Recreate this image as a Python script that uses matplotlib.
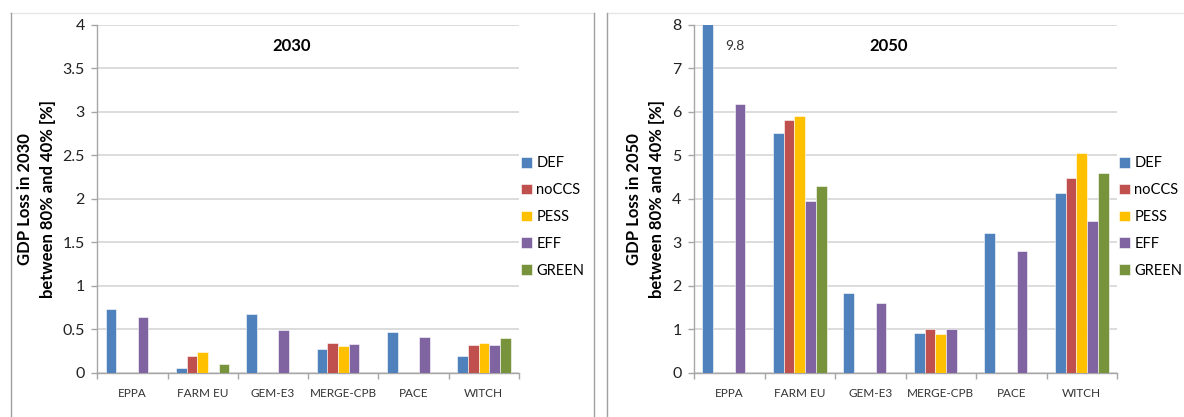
import numpy as np
import matplotlib.pyplot as plt
from matplotlib.lines import Line2D

plt.rcParams["font.family"] = ["Lato", "DejaVu Sans"]

models = ["EPPA", "FARM EU", "GEM-E3", "MERGE-CPB", "PACE", "WITCH"]
scenarios = ["DEF", "noCCS", "PESS", "EFF", "GREEN"]
colors = ["#4F81BD", "#C0504D", "#FFC000", "#8064A2", "#77933C"]

nan = np.nan
# GDP loss 2030 [%], one list per scenario (values by model)
def_2030 = [0.73, 0.055, 0.68, 0.275, 0.47, 0.19]
noccs_2030 = [nan, 0.20, nan, 0.34, nan, 0.32]
pess_2030 = [nan, 0.245, nan, 0.31, nan, 0.34]
eff_2030 = [0.645, -0.005, 0.49, 0.33, 0.41, 0.32]
green_2030 = [nan, 0.10, nan, nan, nan, 0.40]

# GDP loss 2050 [%]
def_2050 = [9.8, 5.51, 1.84, 0.93, 3.22, 4.13]
noccs_2050 = [nan, 5.80, nan, 1.00, nan, 4.47]
pess_2050 = [nan, 5.90, nan, 0.90, nan, 5.06]
eff_2050 = [6.17, 3.95, 1.60, 1.00, 2.80, 3.50]
green_2050 = [nan, 4.30, nan, nan, nan, 4.59]

data_2030 = [def_2030, noccs_2030, pess_2030, eff_2030, green_2030]
data_2050 = [def_2050, noccs_2050, pess_2050, eff_2050, green_2050]

W, H = 1184, 417
fig = plt.figure(figsize=(W / 100, H / 100), dpi=100)


def px(x0, y0, x1, y1):
    return [x0 / W, 1 - y1 / H, (x1 - x0) / W, (y1 - y0) / H]


def panel(rect, data, ymax, ystep, year, legend_x):
    ax = fig.add_axes(rect)
    x = np.arange(len(models))
    w = 0.152
    for k, (vals, c, name) in enumerate(zip(data, colors, scenarios)):
        ax.bar(x + (k - 2) * w, vals, width=w, color=c, edgecolor="white",
               linewidth=0.4, label=name, zorder=3)
    ax.set_xlim(-0.5, len(models) - 0.5)
    ax.set_ylim(0, ymax)
    yt = np.arange(0, ymax + ystep / 2, ystep)
    ax.set_yticks(yt)
    ax.set_yticklabels([("%g" % v) for v in yt])
    ax.yaxis.grid(True, color="#d9d9d9", linewidth=1.3, zorder=0)
    ax.set_xticks(x)
    ax.set_xticklabels(models, fontsize=8.5, color="#333333")
    ax.set_xticks(np.arange(-0.5, len(models)), minor=True)
    ax.tick_params(axis="x", which="major", length=0, pad=11)
    ax.tick_params(axis="x", which="minor", length=4, color="#a6a6a6", width=1)
    ax.tick_params(axis="y", length=4, color="#a6a6a6", width=1, labelsize=11.5,
                   pad=5, labelcolor="#222222")
    for s in ["top", "right"]:
        ax.spines[s].set_visible(False)
    for s in ["left", "bottom"]:
        ax.spines[s].set_color("#a6a6a6")
        ax.spines[s].set_linewidth(1)
    ax.set_axisbelow(True)
    ax.text(0.46, 0.94, year, transform=ax.transAxes, ha="center", va="center",
            fontsize=12, fontweight="bold")
    handles, labels = ax.get_legend_handles_labels()
    fig.legend(handles, labels, loc="center left",
               bbox_to_anchor=(legend_x / W, 1 - 217 / H), frameon=False,
               fontsize=10.5, handlelength=0.75, handleheight=0.75,
               handletextpad=0.3, labelspacing=0.88, borderaxespad=0,
               borderpad=0)
    return ax


ax1 = panel(px(97.3, 24.7, 519, 373), data_2030, 4, 0.5, "2030", 521)
ax2 = panel(px(694, 24.7, 1117, 373), data_2050, 8, 1, "2050", 1119)

ax2.text(0.096, 0.94, "9.8", transform=ax2.transAxes, ha="center", va="center",
         fontsize=10, color="#333333")

fig.text(25 / W, 1 - 199 / H, "GDP Loss in 2030", rotation=90, ha="center",
         va="center", fontsize=12, fontweight="bold")
fig.text(48 / W, 1 - 199 / H, "between 80% and 40% [%]", rotation=90,
         ha="center", va="center", fontsize=12, fontweight="bold")
fig.text(634 / W, 1 - 199 / H, "GDP Loss in 2050", rotation=90, ha="center",
         va="center", fontsize=12, fontweight="bold")
fig.text(657 / W, 1 - 199 / H, "between 80% and 40% [%]", rotation=90,
         ha="center", va="center", fontsize=12, fontweight="bold")


# panel frames
def fline(x0, y0, x1, y1, color, lw=1):
    fig.add_artist(Line2D([x0 / W, x1 / W], [1 - y0 / H, 1 - y1 / H],
                          color=color, linewidth=lw))


fline(10, 13, 594, 13, "#e6e6e6")
fline(607, 13, W, 13, "#e6e6e6")
fline(10.5, 13, 10.5, H, "#a0a0a0")
fline(594, 13, 594, H, "#a0a0a0")
fline(607, 13, 607, H, "#a0a0a0")

fig.savefig("out.png", dpi=100)
